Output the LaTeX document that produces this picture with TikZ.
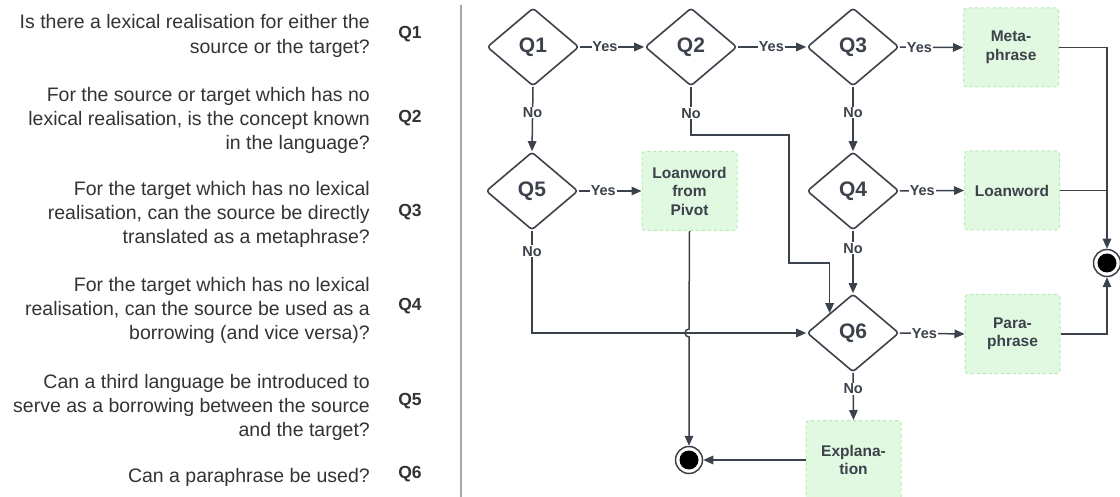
\documentclass[tikz,border=0pt]{standalone}
\usepackage{fontspec}
\setmainfont{Liberation Sans}
\usetikzlibrary{shapes.geometric,arrows.meta,calc}
\definecolor{ink}{HTML}{3C424B}
\definecolor{txt}{HTML}{333333}
\definecolor{boxfill}{HTML}{E1F9E1}
\definecolor{boxline}{HTML}{B3EAB3}
\definecolor{divider}{HTML}{A4A8AE}
\tikzset{
  qtext/.style={anchor=east, align=right, text=txt, font=\fontsize{19.5}{24.2}\selectfont, inner sep=0pt},
  qlab/.style={text=txt, font=\bfseries\fontsize{17.5}{20}\selectfont, inner sep=0pt},
  dec/.style={diamond, draw=ink, line width=1.6pt, fill=white, minimum width=92pt, minimum height=78pt, aspect=1.18, inner sep=0pt, rounded corners=3pt, text=ink, font=\bfseries\fontsize{21}{24}\selectfont},
  outbox/.style={rectangle, rounded corners=3pt, fill=boxfill, draw=boxline, dashed, line width=1pt, minimum width=95pt, minimum height=79pt, align=center, text=ink, font=\bfseries\fontsize{15.5}{18.5}\selectfont, inner sep=2pt},
  endst/.style={circle, draw=ink, line width=1.5pt, fill=white, minimum size=27pt, inner sep=0pt, path picture={\fill[black] (path picture bounding box.center) circle (9.5pt);}},
  conn/.style={draw=ink, line width=1.5pt},
  arr/.style={conn, -{Triangle[length=10pt,width=8.5pt]}},
  lbl/.style={fill=white, inner sep=0.8pt, text=ink, font=\bfseries\fontsize{14.5}{16}\selectfont},
}
\begin{document}
\begin{tikzpicture}[x=1pt,y=-1pt]
\useasboundingbox (0,0) rectangle (1120,497);
% left column
\node[qtext] (t1) at (370,36) {Is there a lexical realisation for either the\\source or the target?};
\node[qtext] (t2) at (370,120.5) {For the source or target which has no\\lexical realisation, is the concept known\\in the language?};
\node[qtext] (t3) at (370,214.5) {For the target which has no lexical\\realisation, can the source be directly\\translated as a metaphrase?};
\node[qtext] (t4) at (370,310.5) {For the target which has no lexical\\realisation, can the source be used as a\\borrowing (and vice versa)?};
\node[qtext] (t5) at (370,407.5) {Can a third language be introduced to\\serve as a borrowing between the source\\and the target?};
\node[qtext] (t6) at (370,477.5) {Can a paraphrase be used?};
\node[qlab] (l1) at (410,34) {Q1};
\node[qlab] (l2) at (410,118) {Q2};
\node[qlab] (l3) at (410,212) {Q3};
\node[qlab] (l4) at (410,306) {Q4};
\node[qlab] (l5) at (410,401) {Q5};
\node[qlab] (l6) at (410,474) {Q6};
\coordinate (dtop) at (461,5);
\coordinate (dbot) at (461,497);
\draw[divider, line width=1.3pt] (dtop) -- (dbot);
% decisions
\node[dec] (Q1) at (533,47) {Q1};
\node[dec] (Q2) at (691,47) {Q2};
\node[dec] (Q3) at (853,47) {Q3};
\node[dec] (Q5) at (532,191) {Q5};
\node[dec] (Q4) at (853,191) {Q4};
\node[dec] (Q6) at (853,333) {Q6};
% outcomes
\node[outbox] (MP) at (1011,47.5) {Meta-\\phrase};
\node[outbox] (LP) at (689.5,191) {Loanword\\from\\Pivot};
\node[outbox] (LW) at (1012,190.5) {Loanword};
\node[outbox] (PP) at (1012.5,334) {Para-\\phrase};
\node[outbox] (EX) at (853.5,460) {Explana-\\tion};
% end states
\node[endst] (ER) at (1107,263) {};
\node[endst] (EB) at (689,460) {};
% yes edges
\draw[arr] (Q1.east) -- node[lbl,pos=0.39]{Yes} (Q2.west);
\draw[arr] (Q2.east) -- node[lbl,pos=0.49]{Yes} (Q3.west);
\draw[arr] (Q3.east) -- node[lbl,pos=0.31]{Yes} (MP.west);
\draw[arr] (Q4.east) -- node[lbl,pos=0.35]{Yes} (LW.west);
\draw[arr] (Q5.east) -- node[lbl,pos=0.39]{Yes} (LP.west);
\draw[arr] (Q6.east) -- node[lbl,pos=0.38]{Yes} (PP.west);
% no edges
\draw[arr] (Q1.south) -- node[lbl,pos=0.4]{No} (Q5.north);
\draw[arr] (Q3.south) -- node[lbl,pos=0.4]{No} (Q4.north);
\draw[arr] (Q4.south) -- node[lbl,pos=0.28]{No} (Q6.north);
\draw[arr] (Q6.south) -- node[lbl,pos=0.34]{No} (EX.north);
\coordinate (c2a) at (691,135);
\coordinate (c2b) at (789,135);
\coordinate (c2c) at (789,263);
\draw[arr] (Q2.south) -- node[lbl,pos=0.55]{No} (c2a) -- (c2b) -- (c2c) -| (Q6.north west);
\draw[arr] (Q5.south) |- node[lbl,pos=0.1]{No} (Q6.west);
% to end states
\coordinate (hop) at (689,329);
\draw[arr] (LP.south) -- (hop) arc[start angle=90, end angle=270, radius=4pt] -- (EB.north);
\draw[arr] (EX.west) -- (EB.east);
\draw[arr] (MP.east) -| (ER.north);
\draw[conn] (LW.east) -- (LW.east -| ER.north);
\draw[arr] (PP.east) -| (ER.south);
\end{tikzpicture}
\end{document}
